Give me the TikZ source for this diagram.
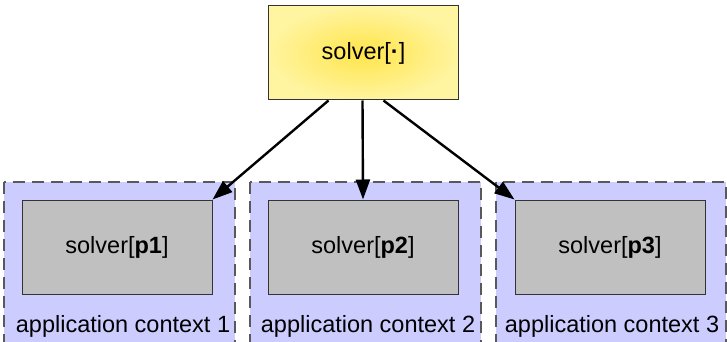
\documentclass[tikz,border=0pt]{standalone}
\usepackage{fontspec}
\setmainfont{Liberation Sans}
\usetikzlibrary{arrows.meta, calc, positioning}

\definecolor{ctxblue}{HTML}{CCCCFF}
\definecolor{boxgray}{HTML}{C0C0C0}
\definecolor{solvin}{HTML}{FFE54A}
\definecolor{solvout}{HTML}{FFF4A0}

\tikzset{
	solverbox/.style={draw=black!80, line width=1pt, minimum width=190pt, minimum height=94pt, inner sep=0pt, font=\fontsize{23.5}{28}\selectfont},
	ctx/.style={fill=ctxblue, draw=black!65, line width=1.2pt, dash pattern=on 12pt off 7pt},
	ctxlabel/.style={anchor=base, inner sep=0pt, font=\fontsize{23.5}{28}\selectfont},
	arr/.style={-{Triangle[length=20pt,width=14pt]}, line width=2.4pt},
}

\begin{document}
\begin{tikzpicture}[x=1pt, y=-1pt]
	\useasboundingbox (0,0) rectangle (727,342);
	\clip (0,0) rectangle (727,342);
	
	%%% Contesti
	\path[ctx] (4,182) rectangle (235,370);
	\path[ctx] (250,182) rectangle (481,370);
	\path[ctx] (496,182) rectangle (726,370);
	
	%%% Nodi
	\node[solverbox, inner color=solvin, outer color=solvout] (top) at (363.5,53) {solver[\textbf{·}]};
	\node[solverbox, fill=boxgray] (p1) at (117,247) {solver[\textbf{p1}]};
	\node[solverbox, fill=boxgray] (p2) at (363,247) {solver[\textbf{p2}]};
	\node[solverbox, fill=boxgray] (p3) at (610,247) {solver[\textbf{p3}]};
	
	\node[ctxlabel] (l1) at (123,332) {application context 1};
	\node[ctxlabel] (l2) at (368,332) {application context 2};
	\node[ctxlabel] (l3) at (612,332) {application context 3};
	
	%%% Frecce
	\draw[arr] ($(top.south)+(-35,0)$) -- (p1.north east);
	\draw[arr] ($(top.south)+(-1,0)$) -- (p2.north);
	\draw[arr] ($(top.south)+(20,0)$) -- (p3.north west);
\end{tikzpicture}
\end{document}
